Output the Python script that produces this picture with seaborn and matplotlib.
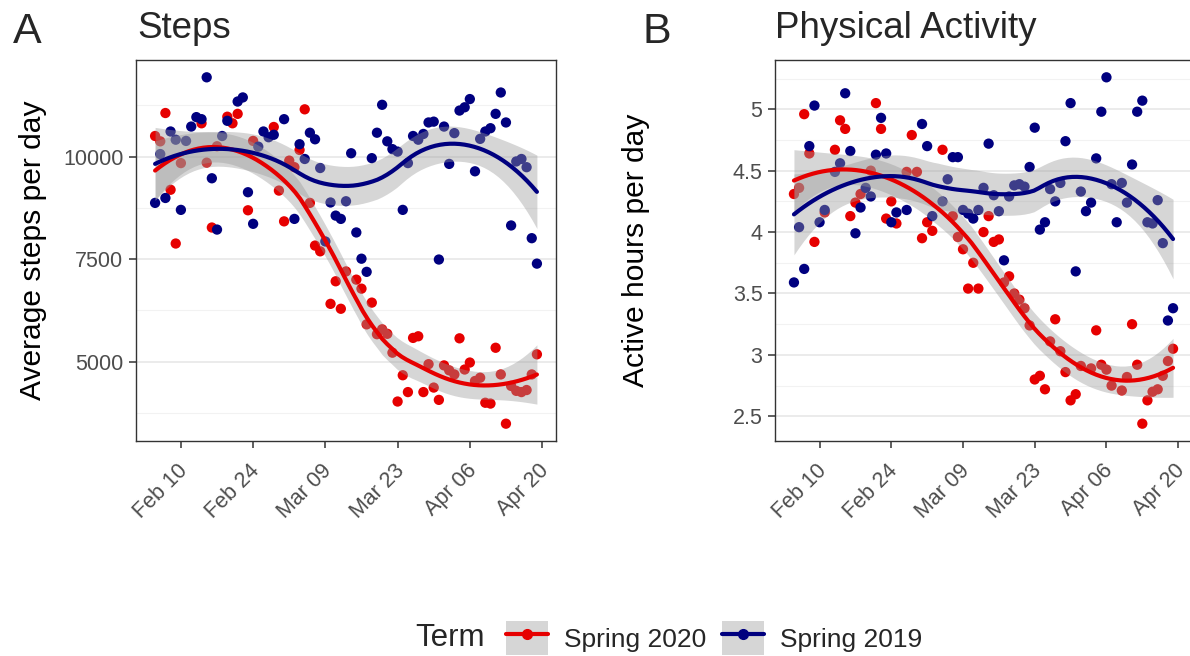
import numpy as np
import pandas as pd
import seaborn as sns
import matplotlib
matplotlib.use("Agg")
import matplotlib.pyplot as plt
import matplotlib.transforms as mtransforms
from matplotlib.lines import Line2D
from matplotlib.patches import Patch

# days are counted from Feb 10 (0 = Feb 10, 14 = Feb 24, ...)
tick_days = [0, 14, 28, 42, 56, 70]
tick_labels = ["Feb 10", "Feb 24", "Mar 09", "Mar 23", "Apr 06", "Apr 20"]
terms = ["Spring 2020", "Spring 2019"]

steps_2020_day = [-5, -4, -3, -2, -1, 0, 4, 5, 6, 7,
                  9, 10, 11, 13, 14, 18, 19, 20, 21, 22,
                  23, 24, 25, 26, 27, 29, 30, 31, 32, 34,
                  35, 36, 37, 38, 39, 40, 41, 42, 43, 44,
                  45, 46, 47, 48, 49, 50, 51, 52, 53, 54,
                  55, 56, 57, 58, 59, 60, 61, 62, 63, 64,
                  65, 66, 67, 68, 69]
steps_2020 = [10500, 10370, 11060, 9190, 7880, 9840, 10810, 9850, 8270, 10250,
              10970, 10810, 11040, 8690, 10380, 10720, 9170, 8420, 9900, 9740,
              10160, 11150, 8870, 7830, 7690, 6410, 6960, 6290, 7200, 7000,
              6780, 5910, 6440, 5670, 5790, 5680, 5220, 4030, 4670, 4260,
              5580, 5620, 4260, 4940, 4370, 4070, 4910, 4790, 4690, 5570,
              4810, 4980, 4530, 4610, 4000, 3980, 5340, 4690, 3490, 4410,
              4290, 4260, 4310, 4690, 5180]

steps_2019_day = [-5, -4, -3, -2, -1, 0, 1, 2, 3, 4,
                  5, 6, 7, 8, 9, 11, 12, 13, 14, 15,
                  16, 17, 18, 20, 22, 23, 24, 25, 26, 27,
                  28, 29, 30, 31, 32, 33, 34, 35, 36, 37,
                  38, 39, 40, 41, 42, 43, 44, 45, 46, 47,
                  48, 49, 50, 51, 52, 53, 54, 55, 56, 57,
                  58, 59, 60, 61, 62, 63, 64, 65, 66, 67,
                  68, 69]
steps_2019 = [8870, 10060, 8990, 10610, 10410, 8700, 10380, 10730, 10960, 10910,
              11930, 9470, 8220, 10500, 10870, 11340, 11440, 9130, 8360, 10240,
              10610, 10470, 10530, 10910, 8480, 10300, 9940, 10580, 10420, 9720,
              7930, 8880, 8560, 8480, 8910, 10080, 8150, 7510, 7190, 9960,
              10580, 11260, 10370, 10180, 10120, 8700, 9840, 10500, 10410, 10550,
              10830, 10850, 7490, 10730, 9820, 10570, 11120, 11200, 11400, 9640,
              10430, 10610, 10690, 11040, 11560, 10830, 8320, 9880, 9940, 9740,
              8010, 7390]

active_2020_day = [-5, -4, -3, -2, -1, 1, 3, 4, 5, 6,
                   7, 8, 10, 11, 12, 13, 14, 15, 17, 18,
                   19, 20, 21, 22, 24, 26, 27, 28, 29, 30,
                   31, 32, 33, 34, 35, 36, 37, 38, 39, 40,
                   41, 42, 43, 44, 45, 46, 47, 48, 49, 50,
                   51, 53, 54, 55, 56, 57, 59, 60, 61, 62,
                   63, 64, 65, 66, 67, 68, 69]
active_2020 = [4.31, 4.36, 4.96, 4.64, 3.92, 4.16, 4.67, 4.91, 4.84, 4.13,
               4.24, 4.31, 4.50, 5.05, 4.84, 4.11, 4.25, 4.07, 4.49, 4.79,
               4.49, 3.95, 4.08, 4.01, 4.67, 4.13, 3.96, 3.86, 3.54, 3.75,
               3.54, 4.00, 4.13, 3.92, 3.94, 3.59, 3.64, 3.50, 3.45, 3.38,
               3.24, 2.80, 2.83, 2.72, 3.11, 3.29, 3.03, 2.86, 2.63, 2.68,
               2.91, 2.89, 3.20, 2.92, 2.88, 2.75, 2.71, 2.82, 3.25, 2.92,
               2.44, 2.63, 2.70, 2.72, 2.83, 2.95, 3.05]

active_2019_day = [-5, -4, -3, -2, -1, 0, 1, 3, 4, 5,
                   6, 7, 8, 9, 10, 11, 12, 13, 14, 15,
                   17, 20, 21, 22, 24, 25, 26, 27, 28, 29,
                   30, 31, 32, 33, 34, 35, 36, 37, 38, 39,
                   40, 41, 42, 43, 44, 45, 46, 47, 48, 49,
                   50, 51, 52, 53, 54, 55, 56, 57, 58, 59,
                   60, 61, 62, 63, 64, 65, 66, 67, 68, 69]
active_2019 = [3.59, 4.04, 3.70, 4.70, 5.03, 4.08, 4.18, 4.49, 4.56, 5.13,
               4.66, 3.99, 4.20, 4.36, 4.29, 4.63, 4.93, 4.64, 4.08, 4.16,
               4.18, 4.88, 4.70, 4.13, 4.25, 4.43, 4.61, 4.61, 4.18, 4.15,
               4.11, 4.18, 4.36, 4.72, 4.30, 4.17, 3.77, 4.29, 4.38, 4.39,
               4.37, 4.53, 4.85, 4.02, 4.08, 4.35, 4.25, 4.40, 4.74, 5.05,
               3.68, 4.33, 4.17, 4.24, 4.60, 4.98, 5.26, 4.39, 4.08, 4.40,
               4.24, 4.55, 4.98, 5.07, 4.08, 4.07, 4.26, 3.91, 3.28, 3.38]

RED = "#E60000"
BLUE = "#00007F"
palette = {"Spring 2020": RED, "Spring 2019": BLUE}


def loess(x, y, xs, span=0.75):
    # local quadratic fit with tricube weights (like R's loess defaults)
    n = len(x)
    q = int(np.floor(n * span))

    def row(x0):
        d = np.abs(x - x0)
        h = np.sort(d)[q - 1]
        w = np.clip(1 - (d / h) ** 3, 0, None) ** 3
        X = np.column_stack([np.ones(n), x - x0, (x - x0) ** 2])
        WX = X * w[:, None]
        return np.linalg.solve(X.T @ WX, WX.T)[0]

    L = np.array([row(v) for v in x])
    resid = y - L @ y
    delta1 = n - 2 * np.trace(L) + np.sum(L * L)
    sigma = np.sqrt(np.sum(resid ** 2) / delta1)
    Ls = np.array([row(v) for v in xs])
    return Ls @ y, sigma * np.sqrt(np.sum(Ls ** 2, axis=1))


W, H = 1190, 656
fig = plt.figure(figsize=(W / 100, H / 100), dpi=100)
sns.set_theme(style="white")
plt.rcParams["font.family"] = ["Liberation Sans", "DejaVu Sans"]


def box(l, t, r, b):
    return [l / W, 1 - b / H, (r - l) / W, (b - t) / H]


def draw_panel(ax, d20, v20, d19, v19, major, minor, labels, ylabel, ylab_x):
    df = pd.concat([
        pd.DataFrame({"day": d20, "value": v20, "term": terms[0]}),
        pd.DataFrame({"day": d19, "value": v19, "term": terms[1]}),
    ])
    sns.scatterplot(data=df, x="day", y="value", hue="term", palette=palette,
                    s=55, linewidth=0, legend=False, ax=ax, zorder=2)
    for term in terms:
        sub = df[df.term == term]
        x = sub.day.to_numpy(float)
        y = sub.value.to_numpy(float)
        xs = np.linspace(x.min(), x.max(), 80)
        fit, se = loess(x, y, xs)
        ax.fill_between(xs, fit - 1.99 * se, fit + 1.99 * se, color="#999999",
                        alpha=0.4, lw=0, zorder=3)
        sns.lineplot(x=xs, y=fit, color=palette[term], lw=3, ax=ax, zorder=4)

    lo, hi = df.value.min(), df.value.max()
    pad = (hi - lo) * 0.05
    ax.set_ylim(lo - pad, hi + pad)
    ax.set_xlim(-5 - 3.7, 69 + 3.7)
    ax.set_xticks(tick_days)
    ax.set_xticklabels(tick_labels, rotation=45, ha="right",
                       rotation_mode="anchor")
    ax.set_yticks(major)
    ax.set_yticklabels(labels)
    ax.set_yticks(minor, minor=True)
    ax.grid(axis="y", which="major", color="#EBEBEB", lw=1.4)
    ax.grid(axis="y", which="minor", color="#F2F2F2", lw=0.8)
    ax.grid(axis="x", visible=False)
    ax.set_axisbelow(True)
    for sp in ax.spines.values():
        sp.set_color("#333333")
        sp.set_linewidth(1.0)
    ax.tick_params(axis="both", which="major", length=5, width=1.1,
                   color="#333333", labelsize=15.5, labelcolor="#4D4D4D",
                   pad=4, bottom=True, left=True)
    ax.tick_params(axis="x", which="major", pad=9)
    ax.tick_params(which="minor", length=0)
    ax.set_xlabel("")
    ax.set_ylabel(ylabel, fontsize=21.6, color="black")
    ax.yaxis.set_label_coords(ylab_x, 0.5)
    # nudge rotated date labels a little to the left
    shift = mtransforms.ScaledTranslation(-4 / 100, 0, fig.dpi_scale_trans)
    for lab in ax.get_xticklabels():
        lab.set_transform(lab.get_transform() + shift)


axA = fig.add_axes(box(136, 60, 556, 441))
draw_panel(axA, steps_2020_day, steps_2020, steps_2019_day, steps_2019,
           [5000, 7500, 10000], [3750, 6250, 8750, 11250],
           ["5000", "7500", "10000"], "Average steps per day", -0.212)

axB = fig.add_axes(box(775, 60, 1192, 441))
draw_panel(axB, active_2020_day, active_2020, active_2019_day, active_2019,
           [2.5, 3, 3.5, 4, 4.5, 5], [2.75, 3.25, 3.75, 4.25, 4.75, 5.25],
           ["2.5", "3", "3.5", "4", "4.5", "5"], "Active hours per day", -0.30)

fig.text(13 / W, 1 - 43 / H, "A", fontsize=31, va="baseline")
fig.text(137 / W, 1 - 38 / H, "Steps", fontsize=26.5, va="baseline")
fig.text(643 / W, 1 - 43 / H, "B", fontsize=31, va="baseline")
fig.text(775 / W, 1 - 38 / H, "Physical Activity", fontsize=26.5,
         va="baseline")

handles = [(Patch(facecolor="#D6D6D6", edgecolor="none"),
            Line2D([], [], color=palette[t], lw=3, marker="o", ms=7))
           for t in terms]
fig.text(415 / W, 1 - 638 / H, "Term", fontsize=22.5, va="center", ha="left")
fig.legend(handles, terms, ncol=2, loc="center left",
           bbox_to_anchor=(506 / W, 1 - 638 / H), frameon=False, fontsize=19,
           handlelength=1.6, handleheight=1.55, handletextpad=0.6,
           columnspacing=0.6, borderpad=0, borderaxespad=0)

fig.savefig("out.png", dpi=100)
